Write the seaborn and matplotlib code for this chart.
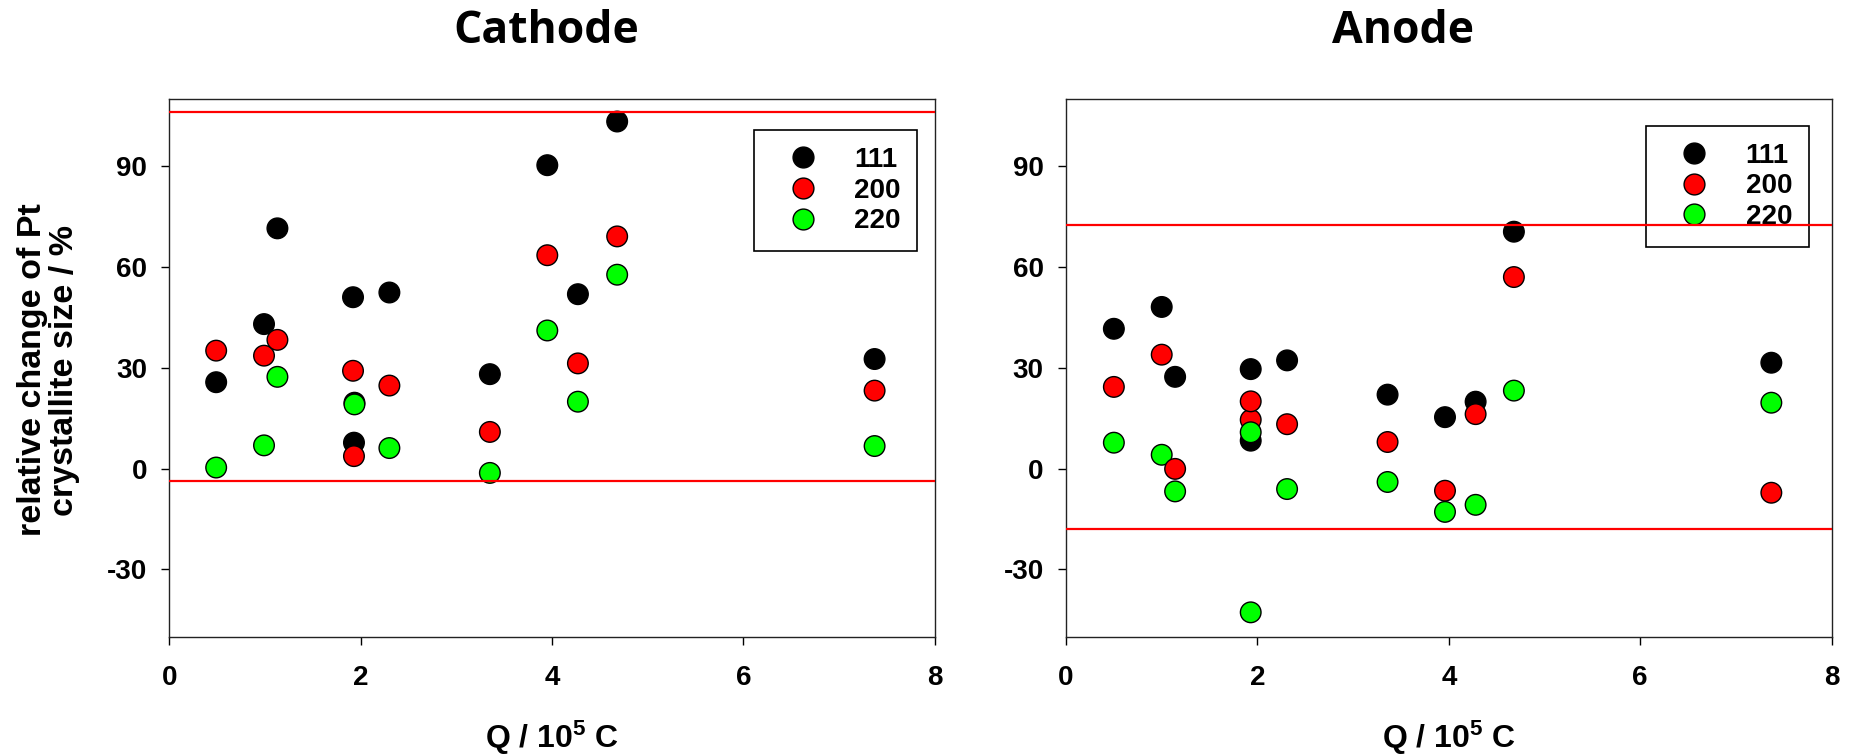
import numpy as np
import pandas as pd
import matplotlib
matplotlib.use("Agg")
import matplotlib.pyplot as plt
from matplotlib.lines import Line2D
import seaborn as sns

# === 데이터 ===
planes = ['111', '200', '220']
plane_colors = {'111': '#000000', '200': '#ff0000', '220': '#00ff00'}

# Cathode
cat_q = [0.49, 0.99, 1.13, 1.92, 1.935, 1.93, 2.30, 3.35, 3.95, 4.27, 4.68, 7.37]
cat_111 = [25.7, 43.0, 71.5, 51.0, 19.6, 7.7, 52.4, 28.1, 90.3, 51.9, 103.3, 32.6]
cat_200 = [35.1, 33.6, 38.3, 29.1, np.nan, 3.7, 24.7, 10.9, 63.5, 31.3, 69.1, 23.2]
cat_220 = [0.3, 6.9, 27.3, np.nan, 19.1, np.nan, 6.1, -1.3, 41.1, 19.9, 57.7, 6.7]
cat_limits = [106.0, -3.6]

# Anode
ano_q = [0.50, 1.00, 1.14, 1.93, 1.93, 2.31, 3.36, 3.96, 4.28, 4.68, 7.37]
ano_111 = [41.6, 48.1, 27.3, 29.6, 8.3, 32.2, 22.0, 15.3, 19.9, 70.5, 31.5]
ano_200 = [24.3, 33.9, -0.1, 14.5, 20.0, 13.2, 7.9, -6.6, 16.2, 57.0, -7.2]
ano_220 = [7.7, 4.1, -6.8, -42.8, 10.8, -6.1, -4.0, -12.9, -10.8, 23.2, 19.6]
ano_limits = [72.5, -17.9]

x_ticks = [0, 2, 4, 6, 8]
y_ticks = [-30, 0, 30, 60, 90]


def to_long(q, v111, v200, v220):
    # 시료별로 111 -> 200 -> 220 순서 (겹침 순서 유지)
    rows = []
    for i in range(len(q)):
        for p, vals in zip(planes, [v111, v200, v220]):
            if not np.isnan(vals[i]):
                rows.append({'Q': q[i], 'change': vals[i], 'plane': p})
    return pd.DataFrame(rows)


df_cat = to_long(cat_q, cat_111, cat_200, cat_220)
df_ano = to_long(ano_q, ano_111, ano_200, ano_220)

sns.set_style('ticks')
plt.rcParams['font.family'] = ['Liberation Sans', 'DejaVu Sans']
plt.rcParams['font.weight'] = 'bold'
plt.rcParams['axes.unicode_minus'] = False
plt.rcParams['text.color'] = 'black'
plt.rcParams['axes.labelcolor'] = 'black'
plt.rcParams['xtick.color'] = 'black'
plt.rcParams['ytick.color'] = 'black'
plt.rcParams['mathtext.fontset'] = 'custom'
plt.rcParams['mathtext.rm'] = 'Liberation Sans:bold'
plt.rcParams['mathtext.it'] = 'Liberation Sans:bold'
plt.rcParams['mathtext.bf'] = 'Liberation Sans:bold'

fig = plt.figure(figsize=(18.52, 7.54), dpi=100)
ax_c = fig.add_axes([0.0914, 0.1558, 0.4134, 0.7129])
ax_a = fig.add_axes([0.5756, 0.1558, 0.4134, 0.7129])

panels = [
    (ax_c, df_cat, cat_limits, (0.764, 0.942), 0.2948, 'Cathode'),
    (ax_a, df_ano, ano_limits, (0.757, 0.950), 0.7576, 'Anode'),
]

for ax, df, limits, leg_pos, title_x, title in panels:
    sns.scatterplot(data=df, x='Q', y='change', hue='plane', palette=plane_colors,
                    hue_order=planes, s=220, edgecolor='black', linewidth=1.0,
                    legend=False, ax=ax, zorder=3)
    for yl in limits:
        ax.axhline(yl, color='#ff0000', linewidth=1.6, zorder=7)

    ax.set_xlim(0, 8)
    ax.set_ylim(-50, 110)
    ax.set_xticks(x_ticks)
    ax.set_yticks(y_ticks)
    ax.tick_params(axis='both', direction='out', length=5.5, width=1.0, color='black',
                   labelcolor='black', labelsize=20, top=False, right=False)
    ax.tick_params(axis='x', pad=15)
    ax.tick_params(axis='y', pad=10.5)
    for lbl in ax.get_xticklabels() + ax.get_yticklabels():
        lbl.set_fontweight('bold')
    for sp in ax.spines.values():
        sp.set_visible(True)
        sp.set_color('#222222')
        sp.set_linewidth(1.0)
    ax.set_xlabel('')
    ax.set_ylabel('')

    handles = [Line2D([], [], linestyle='none', marker='o', markersize=15,
                      markerfacecolor=plane_colors[p], markeredgecolor='black',
                      markeredgewidth=1.0) for p in planes]
    leg = ax.legend(handles, planes, loc='upper left', bbox_to_anchor=leg_pos,
                    borderaxespad=0, frameon=True, fancybox=False, framealpha=1,
                    edgecolor='black', prop={'size': 20, 'weight': 'bold'},
                    borderpad=0.6, labelspacing=0.17, handlelength=2.3,
                    handletextpad=0.7)
    leg.get_frame().set_linewidth(1.2)
    leg.set_zorder(5)

    fig.text(title_x, 0.9426, title, ha='center', va='baseline', color='black',
             fontsize=32, fontweight='bold', family=['Open Sans', 'DejaVu Sans'])

    pos = ax.get_position()
    fig.text(pos.x0 + pos.width / 2, 0.008, r'Q / 10$^{5}$ C', ha='center',
             va='baseline', fontsize=23, fontweight='bold', color='black')

fig.text(48.5 / 1852, 1 - 370 / 754, 'relative change of Pt\ncrystallite size / %',
         rotation=90, ha='center', va='center', fontsize=24.5, fontweight='bold',
         linespacing=1.05, color='black')

fig.savefig('out.png', dpi=100)
